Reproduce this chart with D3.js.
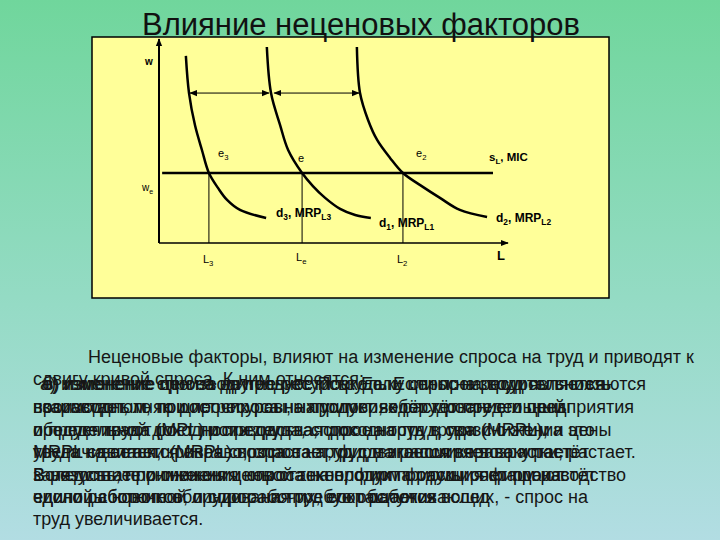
<!DOCTYPE html>
<html><head><meta charset="utf-8">
<script src="https://cdn.jsdelivr.net/npm/d3@7"></script>
<style>html,body{margin:0;padding:0;}svg{display:block;}</style>
</head><body>
<script>
// ---- data (L = labour quantity, w = wage; arbitrary units 0..100) ----
const demandD3 = [[7.7,91.7],[8.6,73.5],[10.3,57.8],[12.3,45.6],[14.3,34.3],[16.9,27.0],[19.5,21.1],[23.2,16.2],[30.7,12.3]];
const demandD1 = [[30.9,96.1],[32.1,73.5],[34.7,57.8],[37.0,45.6],[41.0,34.3],[44.1,27.9],[47.6,22.1],[51.9,16.7],[56.2,13.7],[60.7,12.3]];
const demandD2 = [[56.7,96.1],[57.6,73.5],[59.9,60.3],[62.5,50.5],[66.2,41.7],[69.9,34.3],[75.6,27.5],[80.5,22.1],[86.2,16.2],[94.0,12.7]];
const wageE = 34.3;
const supplyRange = [0.9, 95.7];
const eqL = {L3: 14.3, Le: 41.0, L2: 69.9};
const shiftArrows = [[8.9, 31.5], [33.0, 57.3]];
const shiftArrowW = 73.5;
const titleText = "Влияние неценовых факторов";
const introLines = ["Неценовые факторы, влияют на изменение спроса на труд и приводят к",
                    "сдвигу кривой спроса. К ним относятся:"];
const layerA = ["а) изменение спроса на продукт. Поскольку спрос на труд является",
                "производным, то рост спроса на продукт ведёт к росту его цены",
                "и предельной доходности труда, спрос на труд в связи с этим",
                "увеличивается, кривая спроса на труд сдвигается вправо и растёт",
                "занятость; при снижении спроса на продукт фирмы сокращают",
                "число работников, и спрос на труд сокращается вслед"];
const layerB = ["б) изменение производительности труда. Если производительность",
                "возрастает, то при прочих равных условиях растёт предельный",
                "продукт труда (MPL) и предельная доходность труда (MRPL), а это",
                "MRPL сдвигается вправо, спрос на труд в экономике возрастает.",
                "Вследствие применения новой технологии продукция фирм растёт",
                "единицы нового оборудования требуют рабочих"];
const layerC = ["в) изменение цен на другие ресурсы. Если цены на ресурсы снижаются",
                "взаимодополняющие ресурсы, например, оборудование и предприятия",
                "обеспечивают рост производства, спрос на труд, при снижении цены",
                "труда на станки (MRPL) возрастает, фирма расширяет закупки, растает.",
                "В результате снижения цены станков, фирма расширяет производство",
                "единой сборочной линии рабочих, его обслуживающих, - спрос на",
                "труд увеличивается."];

const W = 720, H = 540;
const svg = d3.select("body").append("svg").attr("width", W).attr("height", H)
  .style("font-family", "'Liberation Sans', Arial, sans-serif");

const defs = svg.append("defs");
const grad = defs.append("linearGradient").attr("id", "bg").attr("x1", 0).attr("y1", 0).attr("x2", 0).attr("y2", 1);
grad.append("stop").attr("offset", "0%").attr("stop-color", "#70d69c");
grad.append("stop").attr("offset", "55%").attr("stop-color", "#94dbc4");
grad.append("stop").attr("offset", "100%").attr("stop-color", "#b2dde3");
function marker(id, orient) {
  defs.append("marker").attr("id", id).attr("viewBox", "0 0 10 10").attr("refX", 9).attr("refY", 5)
    .attr("markerWidth", 8).attr("markerHeight", 8).attr("markerUnits", "userSpaceOnUse").attr("orient", orient)
    .append("path").attr("d", "M0,1 L10,5 L0,9 Z").attr("fill", "#000");
}
marker("ah", "auto");
marker("ahs", "auto-start-reverse");

svg.append("rect").attr("width", W).attr("height", H).attr("fill", "url(#bg)");

// plot frame
svg.append("rect").attr("x", 92).attr("y", 37).attr("width", 517).attr("height", 261)
  .attr("fill", "#ffff99").attr("stroke", "#000").attr("stroke-width", 1.5);

svg.append("text").attr("x", 361).attr("y", 35).attr("text-anchor", "middle")
  .attr("font-size", 31).attr("fill", "#111").text(titleText);

const x = d3.scaleLinear().domain([0, 100]).range([159, 508]);
const y = d3.scaleLinear().domain([0, 100]).range([243, 39]);

// axes
svg.append("line").attr("x1", x(0)).attr("y1", y(0)).attr("x2", x(0)).attr("y2", y(100))
  .attr("stroke", "#000").attr("stroke-width", 2).attr("marker-end", "url(#ah)");
svg.append("line").attr("x1", x(0)).attr("y1", y(0)).attr("x2", x(100)).attr("y2", y(0))
  .attr("stroke", "#000").attr("stroke-width", 1.5).attr("marker-end", "url(#ah)");

// verticals
Object.values(eqL).forEach(v => {
  svg.append("line").attr("x1", x(v)).attr("x2", x(v)).attr("y1", y(0)).attr("y2", y(wageE))
    .attr("stroke", "#000").attr("stroke-width", 1);
});

// supply
svg.append("line").attr("x1", x(supplyRange[0])).attr("x2", x(supplyRange[1]))
  .attr("y1", y(wageE)).attr("y2", y(wageE)).attr("stroke", "#000").attr("stroke-width", 2.5);

// demand curves
const line = d3.line().x(d => x(d[0])).y(d => y(d[1])).curve(d3.curveCatmullRom.alpha(0.5));
[demandD3, demandD1, demandD2].forEach(c => {
  svg.append("path").attr("d", line(c)).attr("fill", "none").attr("stroke", "#000").attr("stroke-width", 2.5);
});

// shift arrows
shiftArrows.forEach(a => {
  svg.append("line").attr("x1", x(a[0])).attr("x2", x(a[1])).attr("y1", y(shiftArrowW)).attr("y2", y(shiftArrowW))
    .attr("stroke", "#000").attr("stroke-width", 1)
    .attr("marker-start", "url(#ahs)").attr("marker-end", "url(#ah)");
});

// labels
function lab(px, py, main, sub, opts) {
  opts = opts || {};
  const t = svg.append("text").attr("x", px).attr("y", py).attr("font-size", opts.size || 11)
    .attr("font-weight", opts.bold ? "bold" : "normal").attr("fill", "#000")
    .attr("text-anchor", opts.anchor || "start");
  main.forEach((m, i) => {
    t.append("tspan").attr("dy", i === 0 ? 0 : -3).text(m);
    if (sub[i]) t.append("tspan").attr("dy", 3).attr("font-size", (opts.size || 11) * 0.7).text(sub[i]);
  });
}
lab(145, 65, ["w"], [""], {size: 10, bold: true});
lab(142, 191, ["w"], ["e"], {size: 10});
lab(218, 157, ["e"], ["3"], {size: 11});
lab(298, 162, ["e"], [""], {size: 11});
lab(416, 157, ["e"], ["2"], {size: 11});
lab(489, 161, ["s", ", MIC"], ["L", ""], {size: 11.5, bold: true});
lab(276, 217, ["d", ", MRP"], ["3", "L3"], {size: 12, bold: true});
lab(379, 227, ["d", ", MRP"], ["1", "L1"], {size: 12, bold: true});
lab(496, 222, ["d", ", MRP"], ["2", "L2"], {size: 12, bold: true});
lab(x(eqL.L3) - 6, 263, ["L"], ["3"], {size: 11});
lab(x(eqL.Le) - 6, 261, ["L"], ["e"], {size: 11});
lab(x(eqL.L2) - 6, 263, ["L"], ["2"], {size: 11});
lab(497, 260, ["L"], [""], {size: 13, bold: true});

// body text
const tg = svg.append("g").attr("font-size", 18).attr("fill", "#161616");
tg.append("text").attr("x", 88).attr("y", 363).text(introLines[0]);
tg.append("text").attr("x", 33).attr("y", 385).text(introLines[1]);
const lineYs = [390, 413, 436, 458, 481, 503, 525];
[layerA, layerB, layerC].forEach((layer, k) => {
  layer.forEach((s, i) => {
    tg.append("text").attr("x", i === 0 ? 40 + k * 2 : 33).attr("y", lineYs[i]).text(s);
  });
});
</script>
</body></html>
